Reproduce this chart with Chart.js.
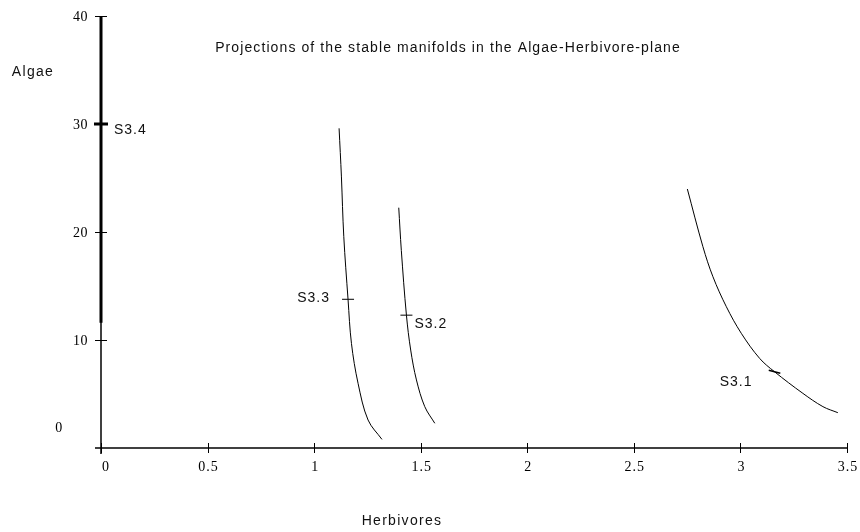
<!DOCTYPE html>
<html>
<head>
<meta charset="utf-8">
<script src="https://cdn.jsdelivr.net/npm/chart.js@4"></script>
<style>
  html, body { margin: 0; padding: 0; background: #fff; }
  #wrap { width: 860px; height: 532px; position: relative; }
</style>
</head>
<body>
<div id="wrap"><canvas id="c" width="860" height="532"></canvas></div>
<script>
// ---- data ----
const titleText = "Projections of the stable manifolds in the Algae-Herbivore-plane";
const xAxisTitle = "Herbivores";
const yAxisTitle = "Algae";
const xTicks = [0, 0.5, 1, 1.5, 2, 2.5, 3, 3.5];
const xTickLabels = ["0", "0.5", "1", "1.5", "2", "2.5", "3", "3.5"];
const yTicks = [10, 20, 30, 40];
const yTickLabels = ["10", "20", "30", "40"];
const yZeroLabel = "0";

const s31Herb  = [2.751, 2.824, 2.871, 2.934, 3.004, 3.090, 3.160, 3.293, 3.387, 3.457];
const s31Algae = [23.98, 18.64, 15.86, 13.08, 10.62, 8.30, 7.06, 5.06, 3.83, 3.27];
const s32Herb  = [1.397, 1.409, 1.433, 1.453, 1.480, 1.519, 1.566];
const s32Algae = [22.25, 18.30, 12.30, 9.07, 6.30, 3.83, 2.29];
const s33Herb  = [1.117, 1.128, 1.139, 1.159, 1.175, 1.206, 1.253, 1.318];
const s33Algae = [29.6, 25.1, 19.6, 13.77, 9.69, 5.99, 2.59, 0.80];
const s34Herb  = [0, 0];
const s34Algae = [11.6, 40];

const markerNames = ["S3.1", "S3.2", "S3.3", "S3.4"];
const markerHerb  = [3.160, 1.433, 1.159, 0];
const markerAlgae = [7.06, 12.30, 13.77, 30];

function pts(xs, ys) { return xs.map((x, i) => ({ x: x, y: ys[i] })); }

const curveStyle = { showLine: true, borderColor: "#000", borderWidth: 1, pointRadius: 0, tension: 0.35, fill: false, clip: false };

// label placement (pixel offsets from marker)
const labelOffsets = [
  { dx: -22, dy: 10, align: "right" },
  { dx: 8, dy: 9, align: "left" },
  { dx: -18, dy: -1, align: "right" },
  { dx: 13, dy: 6, align: "left" }
];

const axesPlugin = {
  id: "axesPlugin",
  afterDatasetsDraw(chart) {
    const ctx = chart.ctx;
    const xs = chart.scales.x, ys = chart.scales.y;
    const x0 = xs.getPixelForValue(0), y0 = ys.getPixelForValue(0);
    ctx.save();
    ctx.strokeStyle = "#000";
    ctx.lineWidth = 1.5;
    // x axis
    ctx.beginPath();
    ctx.moveTo(x0 - 6, y0);
    ctx.lineTo(xs.getPixelForValue(3.5), y0);
    ctx.stroke();
    // y axis
    ctx.beginPath();
    ctx.moveTo(x0, y0 + 6);
    ctx.lineTo(x0, ys.getPixelForValue(40));
    ctx.stroke();
    // ticks
    ctx.lineWidth = 1;
    xTicks.forEach(v => {
      const p = Math.round(xs.getPixelForValue(v)) + 0.5;
      ctx.beginPath(); ctx.moveTo(p, y0 - 5); ctx.lineTo(p, y0 + 5); ctx.stroke();
    });
    yTicks.forEach(v => {
      const p = Math.round(ys.getPixelForValue(v)) + 0.5;
      ctx.beginPath(); ctx.moveTo(x0 - 6, p); ctx.lineTo(x0 + 6, p); ctx.stroke();
    });
    // tick labels
    ctx.fillStyle = "#000";
    ctx.font = "14px 'Liberation Serif'";
    ctx.letterSpacing = "1px";
    ctx.textBaseline = "middle";
    ctx.textAlign = "center";
    xTicks.forEach((v, i) => {
      const dx = i === 0 ? 5 : 1;
      ctx.fillText(xTickLabels[i], xs.getPixelForValue(v) + dx, y0 + 19);
    });
    ctx.letterSpacing = "0.5px";
    ctx.textAlign = "right";
    yTicks.forEach((v, i) => {
      ctx.fillText(yTickLabels[i], x0 - 13, ys.getPixelForValue(v) + 1);
    });
    ctx.textAlign = "center";
    ctx.fillText(yZeroLabel, x0 - 42, y0 - 20);
    // titles
    ctx.font = "14px 'Liberation Sans'";
    ctx.fillStyle = "#111";
    ctx.letterSpacing = "1.1px";
    ctx.fillText(titleText, 448, 48);
    ctx.letterSpacing = "1.3px";
    ctx.fillText(yAxisTitle, 33, 72);
    ctx.fillText(xAxisTitle, 402, 521);
    // marker labels
    ctx.font = "14px 'Liberation Sans'";
    ctx.letterSpacing = "1px";
    markerNames.forEach((n, i) => {
      const o = labelOffsets[i];
      ctx.textAlign = o.align;
      ctx.fillText(n, xs.getPixelForValue(markerHerb[i]) + o.dx, ys.getPixelForValue(markerAlgae[i]) + o.dy);
    });
    ctx.restore();
  }
};

new Chart(document.getElementById("c"), {
  type: "scatter",
  data: {
    datasets: [
      Object.assign({ label: "S3.1", data: pts(s31Herb, s31Algae) }, curveStyle),
      Object.assign({ label: "S3.2", data: pts(s32Herb, s32Algae) }, curveStyle),
      Object.assign({ label: "S3.3", data: pts(s33Herb, s33Algae) }, curveStyle),
      Object.assign({ label: "S3.4", data: pts(s34Herb, s34Algae) }, curveStyle, { borderWidth: 3, tension: 0 }),
      {
        label: "markers",
        data: pts(markerHerb, markerAlgae),
        showLine: false,
        pointStyle: "line",
        pointRadius: [6, 6, 6, 7],
        pointBorderWidth: [1.5, 1, 1, 3],
        pointRotation: [15, 0, 0, 0],
        borderColor: "#000",
        backgroundColor: "#000",
        clip: false
      }
    ]
  },
  options: {
    responsive: false,
    animation: false,
    layout: { padding: { left: 101, right: 13, top: 16, bottom: 84 } },
    plugins: { legend: { display: false }, tooltip: { enabled: false }, title: { display: false } },
    scales: {
      x: { type: "linear", min: 0, max: 3.5, display: false },
      y: { type: "linear", min: 0, max: 40, display: false }
    }
  },
  plugins: [axesPlugin]
});
</script>
</body>
</html>
